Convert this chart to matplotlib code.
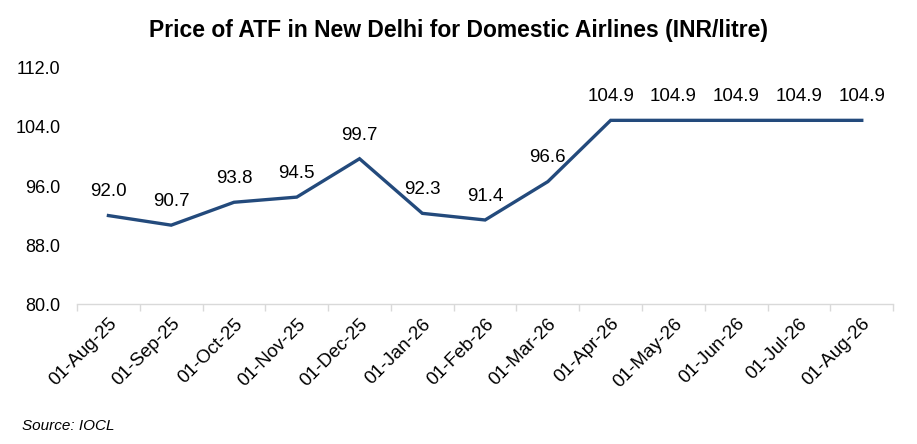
import matplotlib
matplotlib.use("Agg")
import matplotlib.pyplot as plt

plt.rcParams["font.family"] = ["Liberation Sans", "DejaVu Sans"]

dates = ["01-Aug-25", "01-Sep-25", "01-Oct-25", "01-Nov-25", "01-Dec-25",
         "01-Jan-26", "01-Feb-26", "01-Mar-26", "01-Apr-26", "01-May-26",
         "01-Jun-26", "01-Jul-26", "01-Aug-26"]
prices = [92.0, 90.7, 93.8, 94.5, 99.7, 92.3, 91.4, 96.6,
          104.9, 104.9, 104.9, 104.9, 104.9]
y_ticks = [80, 88, 96, 104, 112]

LINE = "#234a7c"
GRID = "#d9d9d9"

fig = plt.figure(figsize=(9.17, 4.44), dpi=100)
ax = fig.add_axes([0.084, 0.315, 0.89, 0.532])

x = list(range(len(dates)))
ax.plot(x, prices, color=LINE, linewidth=2.4, solid_joinstyle="miter")

for xi, v in zip(x, prices):
    ax.annotate(f"{v:.1f}", (xi, v), xytext=(0, 17), textcoords="offset points",
                ha="center", va="center", fontsize=13.5, color="black")

ax.set_xlim(-0.5, len(dates) - 0.5)
ax.set_ylim(80, 112)
ax.set_yticks(y_ticks)
ax.set_yticklabels([f"{t:.1f}" for t in y_ticks], fontsize=13)

# category labels at centers, tick marks at boundaries
ax.set_xticks(x)
ax.set_xticklabels(dates, rotation=45, ha="right", rotation_mode="anchor", fontsize=13.5)
ax.set_xticks([i - 0.5 for i in range(len(dates) + 1)], minor=True)
ax.tick_params(axis="x", which="major", length=0, pad=8)
ax.tick_params(axis="x", which="minor", length=5, color=GRID, width=1)
ax.tick_params(axis="y", length=0, pad=12)

for side in ["top", "right", "left"]:
    ax.spines[side].set_visible(False)
ax.spines["bottom"].set_color(GRID)
ax.spines["bottom"].set_linewidth(1)

fig.text(0.5, 0.932, "Price of ATF in New Delhi for Domestic Airlines (INR/litre)",
         ha="center", va="center", fontsize=16.5, fontweight="bold")
fig.text(0.024, 0.04, "Source: IOCL", ha="left", va="center",
         fontsize=11, style="italic")

fig.savefig("out.png", dpi=100)
